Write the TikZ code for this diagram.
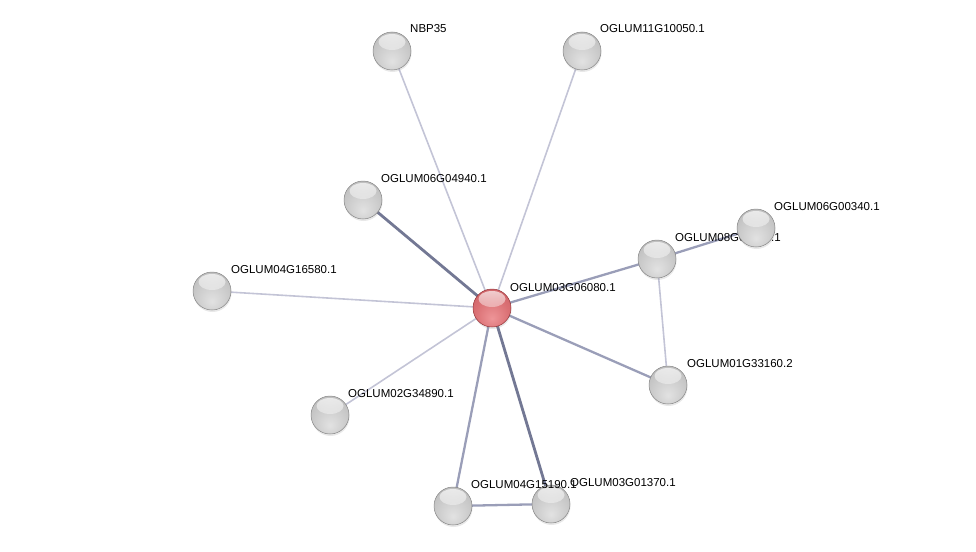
\documentclass[tikz,border=0pt]{standalone}
\usepackage{fontspec}
\setmainfont{Liberation Sans}
\usepackage{tikz}
\usetikzlibrary{backgrounds,fadings,shadows}
\definecolor{EdgeSoft}{HTML}{C3C4D6}
\definecolor{EdgeMid}{HTML}{9A9EB8}
\definecolor{EdgeDark}{HTML}{737894}
\definecolor{BallLow}{HTML}{E2E2E2}
\definecolor{BallMid}{HTML}{CACACA}
\definecolor{BallGrey}{HTML}{B6B6B6}
\definecolor{BallRim}{HTML}{858585}
\definecolor{RedLow}{HTML}{EE9598}
\definecolor{RedMid}{HTML}{DA7074}
\definecolor{RedGrey}{HTML}{CA5E64}
\definecolor{RedRim}{HTML}{943438}
\pgfdeclareradialshading{greyball}{\pgfpoint{0bp}{-14bp}}{color(0bp)=(BallLow);color(22bp)=(BallMid);color(40bp)=(BallGrey);color(52bp)=(BallRim);color(66bp)=(BallRim)}
\pgfdeclareradialshading{redball}{\pgfpoint{0bp}{-14bp}}{color(0bp)=(RedLow);color(22bp)=(RedMid);color(40bp)=(RedGrey);color(52bp)=(RedRim);color(66bp)=(RedRim)}
\tikzset{
  gloss/.style={path picture={\fill[white,opacity=.7,path fading=south]
      ([yshift=9pt]path picture bounding box.center) ellipse (13.5pt and 8pt);}},
  prot/.style={circle,minimum size=38pt,inner sep=0pt,shading=greyball,draw=BallRim,line width=.5pt,gloss,
      drop shadow={opacity=.18,shadow xshift=.5pt,shadow yshift=-2pt}},
  query/.style={prot,shading=redball,draw=RedRim},
  tag/.style={anchor=base west,inner sep=0pt,font=\fontsize{11.5}{13}\selectfont},
  weak/.style={draw=EdgeSoft,line width=1.6pt},
  mid/.style={draw=EdgeMid,line width=2.3pt},
  strong/.style={draw=EdgeDark,line width=2.8pt}
}

\begin{document}
\begin{tikzpicture}[x=1pt,y=-1pt]
  \useasboundingbox (0,0) rectangle (976,551);
  % proteins
  \node[prot] (nbp) at (392,51) {};
  \node[tag] (nbpl) at (410,33) {NBP35};
  \node[prot] (p11) at (582,51) {};
  \node[tag] (p11l) at (600,33) {OGLUM11G10050.1};
  \node[prot] (p0694) at (363,200) {};
  \node[tag] (p0694l) at (381,182) {OGLUM06G04940.1};
  \node[prot] (p0416) at (212,291) {};
  \node[tag] (p0416l) at (231,273) {OGLUM04G16580.1};
  \node[prot] (p08) at (657,259) {};
  \node[tag] (p08l) at (675,241) {OGLUM08G00000.1};
  \node[prot] (p0034) at (756,228) {};
  \node[tag] (p0034l) at (774,210) {OGLUM06G00340.1};
  \node[query] (q) at (492,308) {};
  \node[tag] (ql) at (510,291) {OGLUM03G06080.1};
  \node[prot] (p0133) at (668,385) {};
  \node[tag] (p0133l) at (687,367) {OGLUM01G33160.2};
  \node[prot] (p0234) at (330,415) {};
  \node[tag] (p0234l) at (348,397) {OGLUM02G34890.1};
  \node[prot] (p0301) at (551,504) {};
  \node[tag] (p0301l) at (570,486) {OGLUM03G01370.1};
  \node[prot] (p0415) at (453,506) {};
  \node[tag] (p0415l) at (471,488) {OGLUM04G15190.1};
  % links
  \begin{scope}[on background layer]
    \draw[weak] (q.center) -- (nbp.center);
    \draw[weak] (q.center) -- (p11.center);
    \draw[weak] (q.center) -- (p0416.center);
    \draw[weak] (q.center) -- (p0234.center);
    \draw[weak] (p08.center) -- (p0133.center);
    \draw[strong] (q.center) -- (p0694.center);
    \draw[mid] (q.center) -- (p08.center);
    \draw[mid] (q.center) -- (p0133.center);
    \draw[mid] (q.center) -- (p0415.center);
    \draw[strong] (q.center) -- (p0301.center);
    \draw[mid] (p08.center) -- (p0034.center);
    \draw[mid] (p0415.center) -- (p0301.center);
  \end{scope}
\end{tikzpicture}
\end{document}
